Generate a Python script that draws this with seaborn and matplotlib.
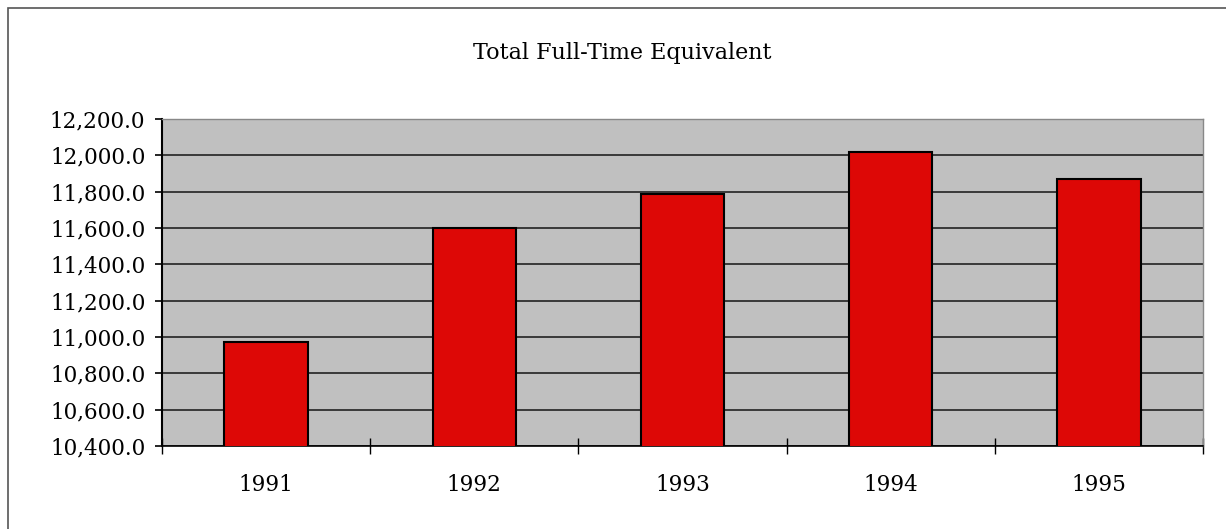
import matplotlib
matplotlib.use('Agg')
import matplotlib.pyplot as plt
import matplotlib.patches as patches
from matplotlib.ticker import FuncFormatter, FixedLocator
import seaborn as sns
import pandas as pd

# datos
anios = ['1991', '1992', '1993', '1994', '1995']
fte_total = [10970, 11600, 11786, 12018, 11870]
y_ticks = [10400, 10600, 10800, 11000, 11200, 11400, 11600, 11800, 12000, 12200]

sns.set_style('white')
plt.rcParams['font.family'] = ['DejaVu Serif', 'DejaVu Sans']
plt.rcParams['text.color'] = 'black'
plt.rcParams['xtick.color'] = 'black'
plt.rcParams['ytick.color'] = 'black'

df = pd.DataFrame({'Año': anios, 'FTE': fte_total})

fig = plt.figure(figsize=(12.26, 5.29), dpi=100)
ax = fig.add_axes([162 / 1226, 1 - 446 / 529, (1203 - 162) / 1226, (446 - 119) / 529])
ax.set_facecolor('#C0C0C0')

sns.barplot(data=df, x='Año', y='FTE', color='#DD0806', edgecolor='black',
            linewidth=1.5, width=0.4, saturation=1, ax=ax, zorder=3)

ax.set_ylim(10400, 12200)
ax.set_xlim(-0.5, len(anios) - 0.5)
ax.set_yticks(y_ticks)
ax.yaxis.set_major_formatter(FuncFormatter(lambda v, p: f'{v:,.1f}'))
ax.grid(axis='y', color='#222222', linewidth=1.2, zorder=1)
ax.set_axisbelow(True)

# marcas del eje x entre categorias
ax.xaxis.set_minor_locator(FixedLocator([i + 0.5 for i in range(-1, len(anios))]))
ax.tick_params(axis='x', which='major', length=0, pad=20, labelsize=15.5, labelcolor='black')
ax.tick_params(axis='x', which='minor', bottom=True, direction='inout', length=12, width=1,
               color='black')
ax.tick_params(axis='y', which='major', direction='out', length=5, width=1.2, pad=7,
               labelsize=15.5, color='black', labelcolor='black', left=True)

ax.set_xlabel('')
ax.set_ylabel('')
for lado in ['top', 'right']:
    ax.spines[lado].set_color('#888888')
    ax.spines[lado].set_linewidth(1)
ax.spines['left'].set_color('black')
ax.spines['left'].set_linewidth(1.5)
ax.spines['bottom'].set_color('black')
ax.spines['bottom'].set_linewidth(1.2)

fig.text(622 / 1226, 1 - 53 / 529, 'Total Full-Time Equivalent', ha='center', va='center',
         fontsize=16, color='black')

# borde del area del grafico
borde = patches.Rectangle((8 / 1226, -0.1), 1.2, 1 - 8 / 529 + 0.1, transform=fig.transFigure,
                          fill=False, edgecolor='#555555', linewidth=1.2)
fig.patches.append(borde)

fig.savefig('out.png', dpi=100)
